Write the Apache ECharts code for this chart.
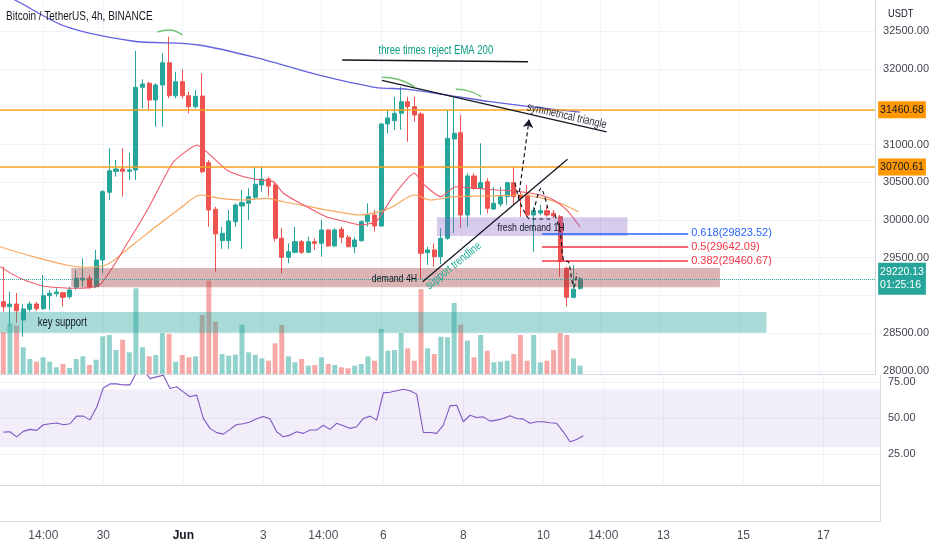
<!DOCTYPE html>
<html>
<head>
<meta charset="utf-8">
<title>Bitcoin / TetherUS, 4h, BINANCE</title>
<script src="https://cdn.jsdelivr.net/npm/echarts@6/dist/echarts.min.js"></script>
<style>
  html, body { margin: 0; padding: 0; background: #ffffff; }
  #chart { width: 932px; height: 550px; }
</style>
</head>
<body>
<div id="chart"></div>
<script>
// 4h candles, one per slot (slot 0 = May 27 14:00) as [open, close, low, high]
const candles = [
  [28918, 28852, 28785, 29381], [28852, 28887, 28600, 29050], [28887, 28799, 28636, 29033],
  [28676, 28821, 28454, 28887], [28817, 28887, 28785, 28918], [28887, 28825, 28795, 28914],
  [28825, 28997, 28808, 29272], [28997, 29029, 28808, 29073], [29024, 29046, 28984, 29095],
  [29037, 28976, 28852, 29050], [28984, 29073, 28954, 29117], [29109, 29228, 29073, 29338],
  [29205, 29228, 29117, 29493], [29228, 29109, 29086, 29272], [29117, 29470, 29099, 29603],
  [29470, 30375, 29294, 30397], [30367, 30653, 30265, 30950], [30645, 30675, 30574, 30795],
  [30675, 30645, 30309, 30950], [30645, 30662, 30530, 30891], [30662, 31758, 30530, 32242],
  [31758, 31801, 31479, 31864], [31811, 31589, 31470, 31832], [31589, 31788, 31236, 31811],
  [31788, 32083, 31236, 32208], [32083, 31646, 31612, 32428], [31646, 31832, 31612, 31964],
  [31832, 31646, 31612, 31996], [31646, 31501, 31413, 31699], [31501, 31638, 31479, 31722],
  [31642, 30640, 30619, 31943], [30759, 30132, 29911, 30795], [30142, 29815, 29315, 30176],
  [29726, 29824, 29616, 29911], [29726, 29987, 29616, 30132], [29977, 30199, 29911, 30221],
  [30185, 30229, 29616, 30397], [30221, 30309, 30000, 30420], [30301, 30473, 30265, 30706],
  [30464, 30543, 30375, 30706], [30543, 30450, 30309, 30574], [30464, 29758, 29713, 30507],
  [29758, 29506, 29294, 29894], [29506, 29580, 29427, 29691], [29572, 29713, 29559, 29911],
  [29713, 29572, 29550, 29735], [29572, 29713, 29559, 29779], [29713, 29691, 29603, 29758],
  [29691, 29868, 29514, 30000], [29868, 29656, 29646, 29877], [29656, 29868, 29646, 29890],
  [29877, 29771, 29691, 29911], [29771, 29646, 29638, 29801], [29646, 29735, 29559, 29779],
  [29726, 29977, 29713, 30000], [29977, 30066, 29911, 30221], [30066, 29921, 29845, 30132],
  [29921, 31272, 29911, 31281], [31272, 31351, 31148, 31457], [31315, 31413, 31192, 31633],
  [31413, 31567, 31192, 31766], [31567, 31501, 31037, 31633], [31501, 31391, 31302, 31633],
  [31404, 29559, 29205, 31434], [29567, 29603, 29404, 29646], [29603, 29514, 29381, 29691],
  [29514, 29758, 29417, 29890], [29758, 31082, 29740, 31457], [31073, 31148, 29824, 31633],
  [31156, 30066, 29894, 31391], [30066, 30583, 29911, 30619], [30583, 30420, 30397, 30619],
  [30420, 30494, 30066, 31016], [30507, 30155, 30089, 30552], [30146, 30221, 30132, 30441],
  [30212, 30309, 30176, 30441], [30309, 30494, 30199, 30507], [30494, 30309, 30199, 30706],
  [30331, 30291, 30044, 30375], [30331, 30066, 30044, 30464], [30066, 30123, 29580, 30176],
  [30093, 30123, 30066, 30199], [30123, 30066, 30044, 30176], [30089, 30053, 30022, 30132],
  [30044, 29448, 29249, 30066], [29360, 28976, 28852, 29381], [28976, 29082, 28963, 29404],
  [29095, 29220.13, 29073, 29249]
];

// volume per candle
const volumes = [
  4170, 5000, 4830, 2670, 1500, 1230, 1670, 1230, 670, 1000,
  600, 1500, 1770, 900, 1430, 3770, 3900, 2400, 3430, 2170,
  8570, 2670, 1770, 1900, 4100, 4000, 1230, 1900, 1670, 1770,
  5900, 9330, 5230, 2000, 1830, 1930, 4930, 2170, 1930, 1570,
  1330, 3070, 4900, 1770, 1170, 1500, 830, 900, 1670, 1000,
  900, 670, 570, 830, 1000, 1770, 1330, 4500, 2330, 2400,
  4100, 2570, 1330, 8500, 2570, 2000, 3730, 3670, 7100, 4930,
  3330, 1670, 3900, 2330, 1170, 1230, 1330, 2000, 3900, 1330,
  3900, 1170, 1330, 2400, 4100, 3900, 1570, 830
];

// RSI per candle
const rsi = [
  40.3, 40.5, 37, 40.8, 42.2, 41.5, 45.4, 46.1, 46.6, 45.4,
  46.1, 51.4, 51.4, 48.8, 57.6, 71, 73.8, 73.8, 73.1, 73.1,
  82, 84, 77.5, 78.7, 79.8, 70.6, 71.8, 68.3, 64.9, 66,
  49.8, 42.9, 39.9, 38.9, 42.2, 45.6, 46.1, 47.3, 49.6, 51.2,
  49.6, 40.5, 37, 38.2, 40.5, 39.4, 41.7, 41.7, 45.1, 42.2,
  46.4, 44.7, 42.9, 44, 49.8, 51.4, 48.6, 67.6, 68, 69,
  70.1, 69, 66.7, 40, 40, 39.4, 45.1, 58.5, 59, 47.5,
  52, 50.4, 50.9, 47.9, 48.6, 49.8, 51.6, 49.8, 49.3, 46.4,
  47.5, 47.5, 46.8, 46.4, 40.5, 33.6, 35.2, 37.8
];

// moving averages as [slot, price]
const emaFast = [
  [-0.5, 29381], [2.5, 29228], [6, 29126], [10.3, 29095], [14.5, 29139], [19, 29735],
  [22, 30176], [25.5, 30751], [27.5, 30905], [29.2, 30993], [31.75, 30817], [33.7, 30662],
  [36.25, 30573], [38.8, 30530], [40.75, 30507], [42.25, 30354], [44.8, 30221], [48.7, 30044],
  [51.7, 29977], [53.8, 29934], [56.2, 29977], [57.5, 30132], [58.75, 30309], [62, 30619],
  [63.5, 30464], [66, 30309], [68.2, 30441], [71, 30420], [74.5, 30398], [78, 30375],
  [81, 30331], [83, 30265], [85, 30132], [87, 29911]
];
const emaSlow = [
  [-0.5, 29646], [4.5, 29514], [9.5, 29404], [12.5, 29374], [15.5, 29404], [19.5, 29669],
  [23, 29911], [27, 30176], [29.75, 30331], [32.75, 30287], [36.25, 30265], [39.7, 30287],
  [42.25, 30242], [46.25, 30176], [50.25, 30110], [53.75, 30066], [56.75, 30110], [58.75, 30176],
  [62, 30331], [64.5, 30265], [68, 30309], [73, 30318], [78, 30331], [81.5, 30287],
  [84, 30221], [86.75, 30110]
];
const ema200 = [
  [-1, 33020], [1.75, 32914], [9.5, 32560], [19.45, 32371], [29.5, 32318], [39.5, 32119],
  [47.5, 31921], [56, 31758], [61, 31731], [68.5, 31633], [73.45, 31567], [79.45, 31501],
  [87, 31430]
];

// axes
const timeTickSlots = [6, 15, 27, 39, 48, 57, 69, 81, 90, 99, 111, 123];
const timeTickLabels = ['14:00', '30', 'Jun', '3', '14:00', '6', '8', '10', '14:00', '13', '15', '17'];
const priceGridValues = [28000, 28500, 29000, 29500, 30000, 30500, 31000, 31500, 32000, 32500];
const priceLabelValues = [28000, 28500, 29500, 30000, 30500, 31000, 32000, 32500];
const rsiLevels = [25, 50, 75];

// drawings
const resistanceLevels = [31460.68, 30700.61];
const lastPrice = 29220.13;
const barCountdown = '01:25:16';
const fibLevels = [['0.618', 29823.52, '#2962ff'], ['0.5', 29642.09, '#f23645'], ['0.382', 29460.67, '#f23645']];
const fibSpan = [81.25, 103.3];
// zones: [slotFrom, slotTo, priceTop, priceBottom]
const demand4h = [10.25, 108.1, 29365, 29110];
const keySupport = [-0.5, 115.1, 28780, 28505];
const freshDemand1h = [65.4, 94.15, 30036, 29788];
const triangleTop = [[57.1, 31848], [91, 31166]];
const supportTrend = [[63.25, 29183], [85.1, 30804]];
const rejectUnderline = [[51.1, 32119], [79.15, 32097]];
const projectionArrow = [[77.7, 30280], [79.3, 31330]];
const projectionPaths = [
  [[77.2, 30490], [77.8, 30265], [78.7, 30093], [79.45, 30013], [82.9, 30013]],
  [[80, 30110], [81.1, 30420], [82.25, 30110]],
  [[83.2, 30066], [84, 29841], [84.5, 29470], [85.25, 29444], [85.75, 29205], [86.1, 29113], [86.5, 29298]]
];
const rejectArcs = [
  [[23.25, 32490], [25, 32517], [27, 32450]],
  [[57.1, 31890], [59.5, 31864], [62.1, 31758]],
  [[68.25, 31731], [70, 31713], [72.1, 31633]]
];
// [text, slot, price, rotate, color, fontSize, align]
const notes = [
  ['three times reject EMA 200', 65.25, 32242, 0, '#089981', 12.5, 'center'],
  ['symmetrical triangle', 85, 31377, -13, '#2a2e39', 12, 'center'],
  ['support trendline', 67.9, 29393, 39, '#22ab94', 12, 'center'],
  ['demand 4H', 59, 29219, 0, '#131722', 11.5, 'center'],
  ['fresh demand 1H', 79.6, 29894, 0, '#131722', 11.5, 'center'],
  ['key support', 5.2, 28636, 0, '#131722', 12.5, 'left']
];

const FONT = "'Liberation Sans', Arial, sans-serif";
const NARROW = 0.76;
const UP = '#26a69a';
const DOWN = '#ef5350';
const GRID_LINE = '#f0f3fa';
const BORDER = '#d6d9e0';

const chart = echarts.init(document.getElementById('chart'));

const slotAxis = (gridIndex, extra) => Object.assign({
  type: 'value',
  gridIndex: gridIndex,
  min: -0.5,
  max: 131.5,
  axisLine: { show: true, onZero: false, lineStyle: { color: BORDER } },
  axisTick: { show: false, customValues: timeTickSlots },
  axisLabel: { show: false },
  splitLine: { show: true, lineStyle: { color: GRID_LINE } }
}, extra);

const zone = (z, color) => [
  { coord: [z[0], z[2]], itemStyle: { color: color } },
  { coord: [z[1], z[3]] }
];

const segment = (pts, style, endSymbol) => [
  { coord: pts[0], lineStyle: style, symbol: 'none' },
  { coord: pts[1], symbol: endSymbol || 'none', symbolSize: 8 }
];

const markLines = [];
resistanceLevels.forEach(p => {
  markLines.push({
    yAxis: p,
    lineStyle: { color: '#f7a21b', width: 1.5, type: 'solid' },
    label: {
      show: true, position: 'end', distance: 3, formatter: p.toFixed(2),
      backgroundColor: '#ff9800', color: '#131722', padding: [3, 2], fontSize: 10.5
    }
  });
});
markLines.push({
  yAxis: lastPrice,
  lineStyle: { color: UP, width: 1, type: 'dotted' },
  label: {
    show: true, position: 'end', distance: 3,
    formatter: lastPrice.toFixed(2) + '\n' + barCountdown,
    backgroundColor: UP, color: '#ffffff', padding: [3, 2], lineHeight: 13, fontSize: 10.5
  }
});
fibLevels.forEach(([k, v, c]) => {
  markLines.push([
    {
      coord: [fibSpan[0], v], lineStyle: { color: c, width: 1.5, type: 'solid' },
      label: { show: true, position: 'end', distance: 3, formatter: k + '(' + v.toFixed(2) + ')', color: c, fontSize: 11 }
    },
    { coord: [fibSpan[1], v] }
  ]);
});
const dark = { color: '#131722', width: 1.3, type: 'solid' };
markLines.push(segment(triangleTop, dark));
markLines.push(segment(supportTrend, dark));
markLines.push(segment(rejectUnderline, { color: '#131722', width: 1.6, type: 'solid' }));
markLines.push(segment(projectionArrow, { color: '#131722', width: 1.2, type: [4, 3] }, 'arrow'));

const series = [
  {
    type: 'bar',
    name: 'Volume',
    xAxisIndex: 0,
    yAxisIndex: 1,
    barWidth: 5,
    silent: true,
    z: 1,
    data: volumes.map((v, i) => ({
      value: [i, v],
      itemStyle: { color: candles[i][1] >= candles[i][0] ? 'rgba(38,166,154,0.5)' : 'rgba(239,83,80,0.5)' }
    }))
  },
  {
    type: 'candlestick',
    name: 'BTCUSDT',
    xAxisIndex: 0,
    yAxisIndex: 0,
    barWidth: 4.6,
    z: 2,
    silent: true,
    encode: { x: 0, y: [1, 2, 3, 4] },
    data: candles.map((c, i) => [i, c[0], c[1], c[2], c[3]]),
    itemStyle: { color: UP, color0: DOWN, borderColor: UP, borderColor0: DOWN, borderWidth: 1 }
  },
  {
    type: 'line', name: 'EMA 200', xAxisIndex: 0, yAxisIndex: 0, z: 3, silent: true,
    showSymbol: false, smooth: 0.3, data: ema200, lineStyle: { color: '#6461e0', width: 1.3 }
  },
  {
    type: 'line', name: 'EMA slow', xAxisIndex: 0, yAxisIndex: 0, z: 3, silent: true,
    showSymbol: false, smooth: 0.3, data: emaSlow, lineStyle: { color: '#f9a65a', width: 1.2 }
  },
  {
    type: 'line', name: 'EMA fast', xAxisIndex: 0, yAxisIndex: 0, z: 3, silent: true,
    showSymbol: false, smooth: 0.2, data: emaFast, lineStyle: { color: '#f0596b', width: 1.1 }
  },
  {
    type: 'line',
    name: 'drawings',
    xAxisIndex: 0,
    yAxisIndex: 0,
    data: [],
    silent: true,
    markArea: {
      silent: true,
      z: 4,
      label: { show: false },
      data: [
        zone(demand4h, 'rgba(160,60,60,0.38)'),
        zone(keySupport, 'rgba(38,166,154,0.4)'),
        zone(freshDemand1h, 'rgba(126,87,194,0.3)')
      ]
    },
    markLine: {
      silent: true,
      z: 5,
      symbol: ['none', 'none'],
      label: { show: false },
      emphasis: { disabled: true },
      data: markLines
    }
  },
  ...rejectArcs.map(a => ({
    type: 'line', xAxisIndex: 0, yAxisIndex: 0, z: 6, silent: true, showSymbol: false,
    smooth: true, data: a, lineStyle: { color: '#5cb85c', width: 1.4, opacity: 0.85 }
  })),
  ...projectionPaths.map(p => ({
    type: 'line', xAxisIndex: 0, yAxisIndex: 0, z: 6, silent: true, showSymbol: false,
    smooth: 0.3, data: p, lineStyle: { color: '#131722', width: 1.2, type: [4, 3] }
  })),
  {
    type: 'line',
    name: 'RSI',
    xAxisIndex: 1,
    yAxisIndex: 2,
    silent: true,
    showSymbol: false,
    data: rsi.map((v, i) => [i, v]),
    lineStyle: { color: '#7e57c2', width: 1.1 },
    markArea: {
      silent: true,
      itemStyle: { color: 'rgba(126,87,194,0.1)' },
      data: [[{ yAxis: 70 }, { yAxis: 30 }]]
    }
  }
];

chart.setOption({
  animation: false,
  backgroundColor: '#ffffff',
  textStyle: { fontFamily: FONT },
  grid: [
    { left: 0, top: 0, width: 880, height: 374 },
    { left: 0, top: 375, width: 880, height: 110 },
    { left: 0, top: 486, width: 880, height: 35 }
  ],
  xAxis: [
    slotAxis(0),
    slotAxis(1),
    slotAxis(2, {
      splitLine: { show: false },
      axisLabel: {
        show: true,
        customValues: timeTickSlots,
        margin: 9,
        color: '#4a4f5c',
        fontSize: 12,
        formatter: v => {
          const t = timeTickLabels[timeTickSlots.indexOf(Math.round(v))] || '';
          return t === 'Jun' ? '{b|Jun}' : t;
        },
        rich: { b: { fontWeight: 'bold', color: '#131722', fontSize: 12 } }
      }
    })
  ],
  yAxis: [
    {
      type: 'value', gridIndex: 0, position: 'right', min: 27960, max: 32914,
      axisLine: { show: true, onZero: false, lineStyle: { color: BORDER } },
      axisTick: { show: false, customValues: priceGridValues },
      axisLabel: { customValues: priceLabelValues, formatter: v => v.toFixed(2), color: '#434651', fontSize: 11, margin: 8 },
      splitLine: { show: true, lineStyle: { color: GRID_LINE } }
    },
    { type: 'value', gridIndex: 0, min: 0, max: 37400, show: false },
    {
      type: 'value', gridIndex: 1, position: 'right', min: 3.5, max: 80,
      axisLine: { show: true, onZero: false, lineStyle: { color: BORDER } },
      axisTick: { show: false, customValues: rsiLevels },
      axisLabel: { customValues: rsiLevels, formatter: v => v.toFixed(2), color: '#434651', fontSize: 11, margin: 8 },
      splitLine: { show: true, lineStyle: { color: GRID_LINE } }
    },
    {
      type: 'value', gridIndex: 2, position: 'right', min: 0, max: 1,
      axisLine: { show: true, onZero: false, lineStyle: { color: BORDER } },
      axisTick: { show: false }, axisLabel: { show: false }, splitLine: { show: false }
    }
  ],
  series: series
});

// texts drawn narrow like the original; note positions come from the price scale
const noteGraphics = notes.map(n => {
  const p = chart.convertToPixel({ xAxisIndex: 0, yAxisIndex: 0 }, [n[1], n[2]]);
  return {
    type: 'text', x: p[0], y: p[1], rotation: n[3] * Math.PI / 180, scaleX: NARROW, z: 100,
    style: { text: n[0], fill: n[4], font: n[5] + 'px ' + FONT, align: n[6], verticalAlign: 'middle' }
  };
});
chart.setOption({
  graphic: [
    { type: 'text', x: 6, y: 16, scaleX: 0.74, z: 100,
      style: { text: 'Bitcoin / TetherUS, 4h, BINANCE', fill: '#131722', font: '13.5px ' + FONT, verticalAlign: 'middle' } },
    { type: 'text', x: 888, y: 14, scaleX: 0.85, z: 100,
      style: { text: 'USDT', fill: '#131722', font: '11px ' + FONT, verticalAlign: 'middle' } },
    ...noteGraphics
  ]
});
</script>
</body>
</html>
